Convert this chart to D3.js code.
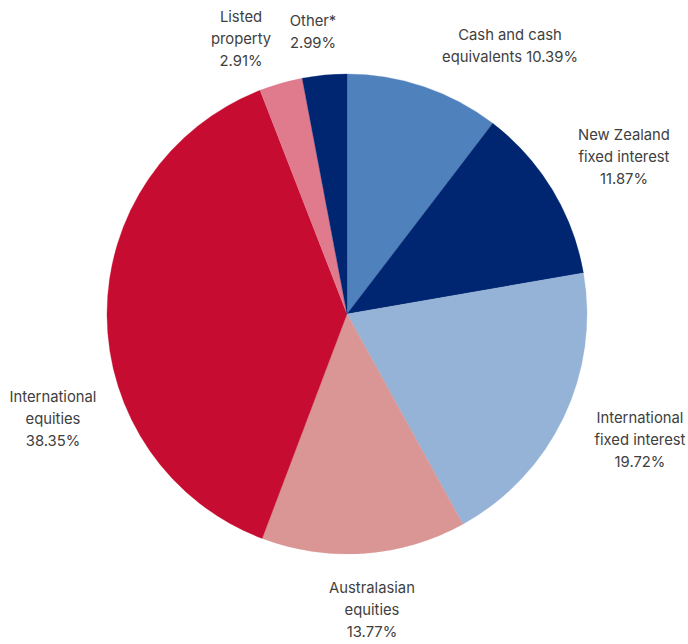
<!DOCTYPE html>
<html><head><meta charset="utf-8">
<script src="https://cdn.jsdelivr.net/npm/d3@7"></script>
<style>html,body{margin:0;padding:0;background:#fff;}svg{display:block;}</style>
</head><body>
<svg id="chart" width="688" height="644"></svg>
<script>
const categories = ["Cash and cash equivalents","New Zealand fixed interest","International fixed interest","Australasian equities","International equities","Listed property","Other*"];
const values = [10.39, 11.87, 19.72, 13.77, 38.35, 2.91, 2.99];
const colors = ["#4F81BD","#002672","#95B3D7","#D99694","#C60C30","#E07B8E","#002672"];
// label text lines per category
const labelLines = [
  ["Cash and cash","equivalents 10.39%"],
  ["New Zealand","fixed interest","11.87%"],
  ["International","fixed interest","19.72%"],
  ["Australasian","equities","13.77%"],
  ["International","equities","38.35%"],
  ["Listed","property","2.91%"],
  ["Other*","2.99%"]
];
// label centre positions (layout)
const labelPos = [[510,46],[624,157],[640,440],[372,610],[53,419],[241,39],[313,32]];

const svg = d3.select("#chart");
const cx = 347, cy = 314, r = 240;
const g = svg.append("g").attr("transform", `translate(${cx},${cy})`);
const pie = d3.pie().sort(null).value(d => d);
const arc = d3.arc().innerRadius(0).outerRadius(r);
const arcs = pie(values);
g.selectAll("path").data(arcs).join("path")
  .attr("d", arc)
  .attr("fill", (d,i) => colors[i])
  .attr("stroke", (d,i) => colors[i]).attr("stroke-width", 0.3);

const lh = 22;
labelLines.forEach((lines, i) => {
  const [x, y] = labelPos[i];
  const t = svg.append("text")
    .attr("text-anchor", "middle")
    .attr("font-family", "Inter, 'Open Sans', sans-serif")
    .attr("font-size", 14.8)
    .attr("fill", "#404040");
  const y0 = y - (lines.length - 1) * lh / 2;
  lines.forEach((s, k) => {
    t.append("tspan").attr("x", x).attr("y", y0 + k * lh).attr("dy", "0.35em").text(s);
  });
});
</script>
</body></html>
